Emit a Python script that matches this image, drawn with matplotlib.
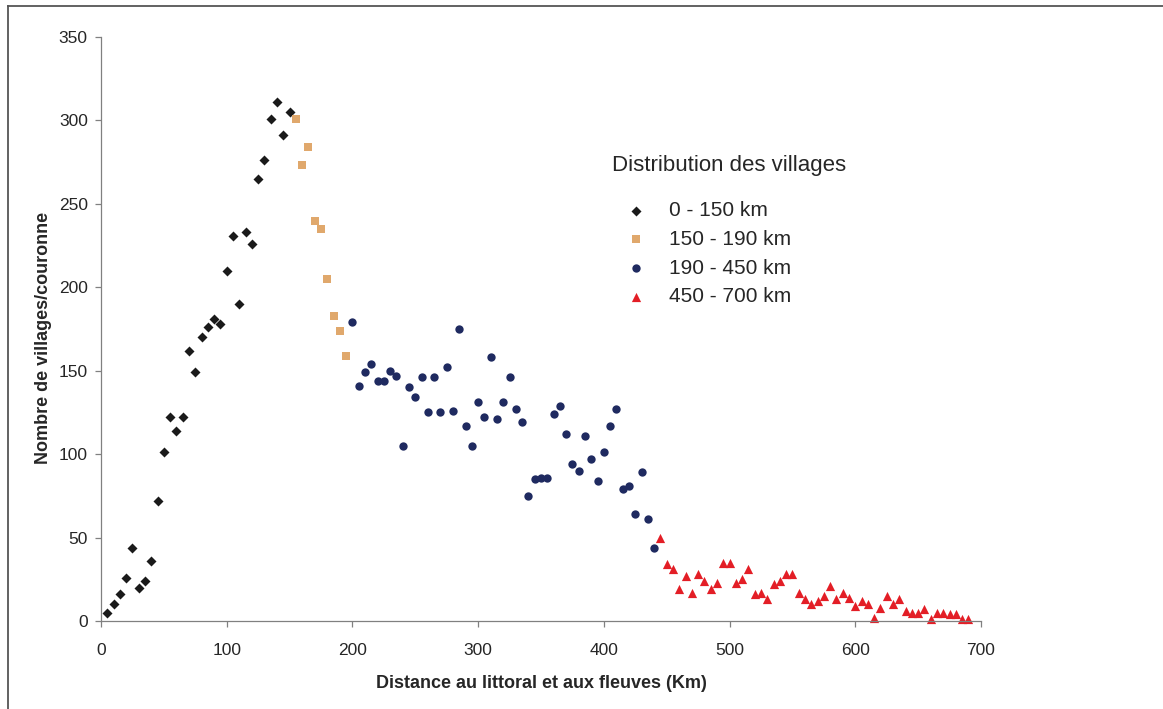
import matplotlib
matplotlib.use("Agg")
import matplotlib.pyplot as plt
from matplotlib.lines import Line2D

plt.rcParams['font.family'] = ['Liberation Sans', 'DejaVu Sans']

# distance (km) and number of villages per ring, grouped by distance class
dist_0_150 = [5, 10, 15, 20, 25, 30, 35, 40, 45, 50, 55, 60, 65, 70, 75,
              80, 85, 90, 95, 100, 105, 110, 115, 120, 125, 130, 135, 140, 145, 150]
vill_0_150 = [5, 10, 16, 26, 44, 20, 24, 36, 72, 101, 122, 114, 122, 162, 149,
              170, 176, 181, 178, 210, 231, 190, 233, 226, 265, 276, 301, 311, 291, 305]

dist_150_190 = [155, 160, 165, 170, 175, 180, 185, 190, 195]
vill_150_190 = [301, 273, 284, 240, 235, 205, 183, 174, 159]

dist_190_450 = [200, 205, 210, 215, 220, 225, 230, 235, 240, 245, 250, 255, 260,
                265, 270, 275, 280, 285, 290, 295, 300, 305, 310, 315, 320, 325,
                330, 335, 340, 345, 350, 355, 360, 365, 370, 375, 380, 385, 390,
                395, 400, 405, 410, 415, 420, 425, 430, 435, 440]
vill_190_450 = [179, 141, 149, 154, 144, 144, 150, 147, 105, 140, 134, 146, 125,
                146, 125, 152, 126, 175, 117, 105, 131, 122, 158, 121, 131, 146,
                127, 119, 75, 85, 86, 86, 124, 129, 112, 94, 90, 111, 97,
                84, 101, 117, 127, 79, 81, 64, 89, 61, 44]

dist_450_700 = [445, 450, 455, 460, 465, 470, 475, 480, 485, 490, 495, 500, 505,
                510, 515, 520, 525, 530, 535, 540, 545, 550, 555, 560, 565, 570,
                575, 580, 585, 590, 595, 600, 605, 610, 615, 620, 625, 630, 635,
                640, 645, 650, 655, 660, 665, 670, 675, 680, 685, 690]
vill_450_700 = [50, 34, 31, 19, 27, 17, 28, 24, 19, 23, 35, 35, 23,
                25, 31, 16, 17, 13, 22, 24, 28, 28, 17, 13, 10, 12,
                15, 21, 13, 17, 14, 9, 12, 10, 2, 8, 15, 10, 13,
                6, 5, 5, 7, 1, 5, 5, 4, 4, 1, 1]

labels = ['0 - 150 km', '150 - 190 km', '190 - 450 km', '450 - 700 km']
x_ticks = [0, 100, 200, 300, 400, 500, 600, 700]
y_ticks = [0, 50, 100, 150, 200, 250, 300, 350]

W, H = 1163, 709
fig = plt.figure(figsize=(W / 100, H / 100), dpi=100)
ax = fig.add_axes([101 / W, 1 - 621 / H, 880 / W, 584 / H])

txt_col = '#262626'
ax.scatter(dist_0_150, vill_0_150, marker='D', s=26, color='#1a1a1a', lw=0,
           clip_on=False, label=labels[0])
ax.scatter(dist_150_190, vill_150_190, marker='s', s=28, color='#e0a86c', lw=0,
           clip_on=False, label=labels[1])
ax.scatter(dist_190_450, vill_190_450, marker='o', s=36, color='#1f2a60', lw=0,
           clip_on=False, label=labels[2])
ax.scatter(dist_450_700, vill_450_700, marker='^', s=44, color='#e31e26', lw=0,
           clip_on=False, label=labels[3])

ax.set_xlim(0, 700)
ax.set_ylim(0, 350)
ax.set_xticks(x_ticks)
ax.set_yticks(y_ticks)
for s in ['top', 'right']:
    ax.spines[s].set_visible(False)
for s in ['left', 'bottom']:
    ax.spines[s].set_color('#808080')
    ax.spines[s].set_linewidth(0.9)
ax.tick_params(axis='x', direction='out', length=4.5, width=0.9, color='#808080',
               pad=11, labelsize=12.5, labelcolor=txt_col)
ax.tick_params(axis='y', direction='out', length=4, width=0.9, color='#808080',
               pad=5.5, labelsize=12.5, labelcolor=txt_col)

ax.set_xlabel('Distance au littoral et aux fleuves (Km)', fontsize=13,
              fontweight='bold', color=txt_col)
ax.xaxis.set_label_coords(0.5, -0.092)
ax.set_ylabel('Nombre de villages/couronne', fontsize=13, fontweight='bold',
              color=txt_col)
ax.yaxis.set_label_coords(-0.056, 0.485)

# legend: title drawn separately, entries via ax.legend
fig.text(612 / W, 1 - 165 / H, 'Distribution des villages', fontsize=16,
         color=txt_col, ha='left', va='center')
leg = ax.legend(loc='upper left', bbox_to_anchor=(615 / W, 1 - 201 / H),
                bbox_transform=fig.transFigure, frameon=False, fontsize=15,
                borderpad=0, borderaxespad=0, labelspacing=0.47,
                handlelength=2.0, handletextpad=0.6, scatterpoints=1)
for t in leg.get_texts():
    t.set_color(txt_col)

# outer frame (left and top edges visible)
fig.add_artist(Line2D([8 / W, 8 / W], [0, 1 - 6 / H], transform=fig.transFigure,
                      color='#555555', lw=1.3))
fig.add_artist(Line2D([8 / W, 1], [1 - 6 / H, 1 - 6 / H], transform=fig.transFigure,
                      color='#555555', lw=1.3))

fig.savefig('out.png', dpi=100)
